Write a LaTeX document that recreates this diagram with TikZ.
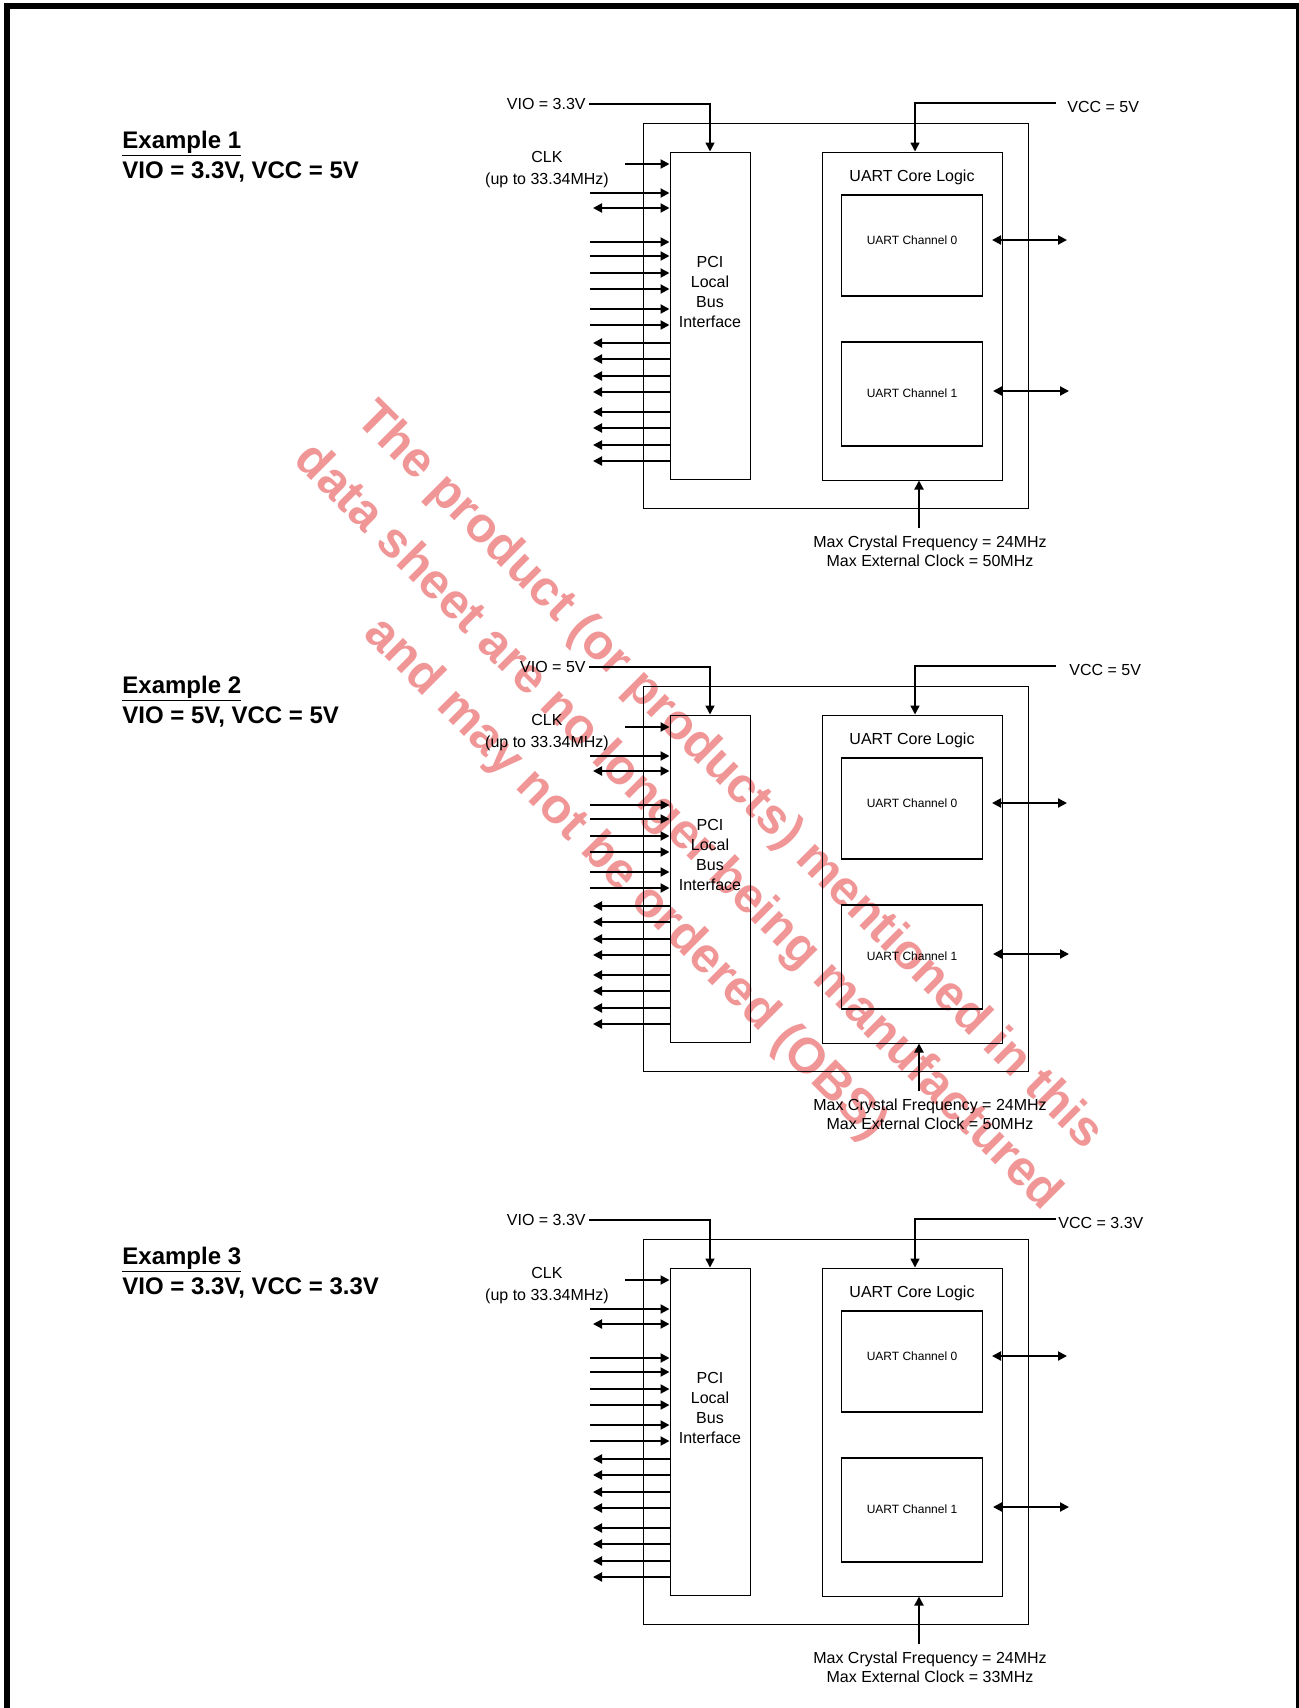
\documentclass[tikz,border=0pt]{standalone}
\usepackage{fontspec}
\setmainfont{Liberation Sans}
\usepackage{tikz}
\usetikzlibrary{positioning, arrows.meta}
\definecolor{obsred}{RGB}{240,150,150}

\begin{document}
\begin{tikzpicture}[
        x=0.5pt, y=-0.5pt,
        >={Triangle[length=4.5pt, width=4.5pt]},
        block/.style={draw=black, line width=0.5pt, rectangle, inner sep=0pt},
        channel/.style={draw=black, line width=0.75pt, rectangle, inner sep=0pt, minimum width=70.5pt},
        txt/.style={font=\fontsize{8}{10}\selectfont, inner sep=0pt},
        small/.style={font=\fontsize{6}{7}\selectfont, inner sep=0pt},
        exhead/.style={font=\fontsize{12}{15}\selectfont\bfseries, inner sep=0pt},
        bus/.style={line width=1pt},
        pwr/.style={line width=0.8pt},
        obs/.style={rotate=-45, align=center, text=obsred, inner sep=0pt, font=\fontsize{24.8}{36.5}\selectfont\bfseries}
    ]
    \useasboundingbox (0,0) rectangle (1298,1708);

    % Rahmen
    \draw[line width=3pt] (7,1708) -- (7,5.5) -- (1299,5.5) -- (1299,1708);

    % Hinweis
    \node[obs] (obstext) at (677,828) {The product (or products) mentioned in this\\data sheet are no longer being manufactured\\and may not be ordered (OBS)};

    \foreach \n/\dy/\ldy/\vio/\vcc/\vccx/\ext in {1/0/0/3.3V/5V/1067/50MHz, 2/563/545/5V/5V/1069/50MHz, 3/1116/1116/3.3V/3.3V/1058/33MHz}{
        % Beschriftung
        \node[exhead, anchor=base west] (ex\n) at (122,{148+\ldy}) {\underline{Example \n}};
        \node[exhead, anchor=base west] (exv\n) at ([yshift=-15.15pt]ex\n.base west) {VIO = \vio, VCC = \vcc};

        \begin{scope}[shift={(0,\dy)}]
            % Knoten
            \node[block, minimum width=192.5pt, minimum height=192.5pt] (chip\n) at (835.5,315.5) {};
            \node[block, minimum width=40pt, minimum height=163.5pt] (pci\n) at (710,315.5) {};
            \node[block, minimum width=90pt, minimum height=164pt] (core\n) at (912,316) {};
            \node[channel, minimum height=50.5pt] (chA\n) at (912,245.5) {};
            \node[channel, minimum height=52pt] (chB\n) at (912,394) {};
            \node[txt, align=center] (pcitext\n) at ([yshift=11.8pt]pci\n.center) {PCI\\Local\\Bus\\Interface};
            \node[txt, anchor=base] (coretext\n) at ([yshift=-14.85pt]core\n.north) {UART Core Logic};
            \node[small, anchor=base] (chAtext\n) at ([yshift=0.6pt]chA\n.center) {UART Channel 0};
            \node[small, anchor=base] (chBtext\n) at ([yshift=-1.65pt]chB\n.center) {UART Channel 1};
            \node[txt, anchor=east, inner sep=1.5pt] (vio\n) at (589,104) {VIO = \vio};
            \node[txt, anchor=west] (vcc\n) at (\vccx,107) {VCC = \vcc};
            \node[txt, align=center, font=\fontsize{8}{11}\selectfont] (clk\n) at (547,170) {CLK\\(up to 33.34MHz)};
            \node[txt, align=center, font=\fontsize{8}{9.5}\selectfont] (xtal\n) at (930,551) {Max Crystal Frequency = 24MHz\\Max External Clock = \ext};
            \coordinate (vccpin\n) at (1056,103);
            \coordinate (clkpin\n) at (625,164);
            \coordinate (xtalpin\n) at (919,528);
            \coordinate (busin\n) at (590,0);
            \coordinate (busout\n) at (593,0);
            \coordinate (uA\n) at (992,240);
            \coordinate (txA\n) at (1067,240);
            \coordinate (uB\n) at (993,391);
            \coordinate (txB\n) at (1069,391);

            % Kanten
            \draw[pwr, ->] (vio\n.east) -| (pci\n.north);
            \draw[pwr, ->] (vccpin\n) -| ([xshift=1.5pt]core\n.north);
            \draw[bus, ->] (clkpin\n) -- (clkpin\n -| pci\n.west);
            \draw[bus, ->] (xtalpin\n) -- (xtalpin\n |- core\n.south);
            \draw[bus, <->] (uA\n) -- (txA\n);
            \draw[bus, <->] (uB\n) -- (txB\n);
            \draw[bus, <->] (busout\n |- 0,208) -- (pci\n.west |- 0,208);
            \foreach \y in {193, 242, 256, 273, 289, 309, 325}
                \draw[bus, ->] (busin\n |- 0,\y) -- (pci\n.west |- 0,\y);
            \foreach \y in {343, 359, 376, 392, 412, 428, 445, 461}
                \draw[bus, <-] (busout\n |- 0,\y) -- (pci\n.west |- 0,\y);
        \end{scope}
    }

\end{tikzpicture}
\end{document}
